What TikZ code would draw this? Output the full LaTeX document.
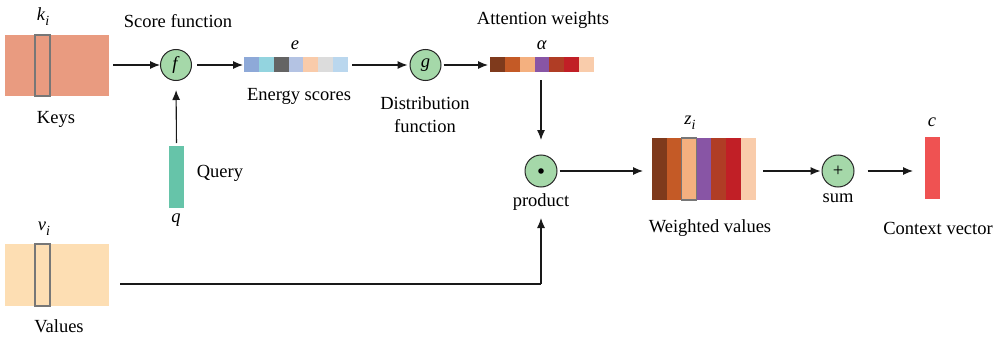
\documentclass[tikz,border=0pt]{standalone}
\usepackage{fontspec}
\setmainfont{LiberationSerif}[Extension=.ttf, UprightFont=*-Regular, ItalicFont=*-Italic, BoldFont=*-Bold, BoldItalicFont=*-BoldItalic]
\usetikzlibrary{arrows.meta}

\definecolor{keyc}{HTML}{E99B80}
\definecolor{valc}{HTML}{FDDEB3}
\definecolor{qryc}{HTML}{66C4A9}
\definecolor{ctxc}{HTML}{EF5252}
\definecolor{opc}{HTML}{A5D8A9}
\definecolor{boxc}{HTML}{777777}
% energy score cells
\definecolor{ea}{HTML}{8EA9D8}\definecolor{eb}{HTML}{93D4DF}\definecolor{ec}{HTML}{646464}
\definecolor{ed}{HTML}{B4C3E3}\definecolor{ee}{HTML}{F9CBAA}\definecolor{ef}{HTML}{DCDCDC}
\definecolor{eg}{HTML}{BAD7EE}
% attention weight cells
\definecolor{wa}{HTML}{7F3A1C}\definecolor{wb}{HTML}{C45A26}\definecolor{wc}{HTML}{F4B07F}
\definecolor{wd}{HTML}{8855A5}\definecolor{we}{HTML}{B03D25}\definecolor{wf}{HTML}{C11F26}
\definecolor{wg}{HTML}{F9CCAB}

% italic index lowered below the baseline
\newcommand{\idx}[1]{\raisebox{-5pt}{\fontsize{14}{14}\selectfont\textit{#1}}}

\tikzset{
  lbl/.style={font=\fontsize{18.5}{21}\selectfont, inner sep=0pt},
  blk/.style={draw=none, inner sep=0pt, outer sep=0pt},
  slice/.style={draw=boxc, line width=1.4pt, fill=none, inner sep=0pt, minimum width=15pt},
  op/.style={circle, draw=black!85, line width=1pt, fill=opc, minimum size=31pt, inner sep=0pt,
             font=\fontsize{18.5}{21}\selectfont},
  arr/.style={-{Latex[length=10pt,width=8pt]}, line width=1.1pt, black!90},
  ln/.style={line width=1.1pt, black!90},
}

\begin{document}
\begin{tikzpicture}[x=1pt,y=-1pt]
\useasboundingbox (0,0) rectangle (1003,337);

% keys and values matrices
\node[blk, fill=keyc, minimum width=104pt, minimum height=61pt] (keys) at (57,65.5) {};
\node[slice, minimum height=61pt] (ki) at (42.5,65.5) {};
\node[lbl] (kil) at (43,17) {\textit{k}\idx{i}};
\node[lbl] (keysl) at (56,119) {Keys};

\node[blk, fill=valc, minimum width=104pt, minimum height=62pt] (vals) at (57,275) {};
\node[slice, minimum height=62pt] (vi) at (42.5,275) {};
\node[lbl] (vil) at (44,229) {\textit{v}\idx{i}};
\node[lbl] (valsl) at (59,326) {Values};

% query
\node[blk, fill=qryc, minimum width=15pt, minimum height=62pt] (qry) at (176.5,177) {};
\node[lbl] (ql) at (176,220) {\textit{q}};
\node[lbl] (qryl) at (220,173) {Query};

% score function
\node[op] (f) at (176,65) {\textit{f}};
\node[lbl] (fl) at (178,21) {Score function};

% energy scores
\foreach \c [count=\i from 0] in {ea,eb,ec,ed,ee,ef,eg}
  \node[blk, fill=\c, minimum width=14.9pt, minimum height=15pt, anchor=west] (e\i) at (244+14.86*\i,64.5) {};
\node[lbl] (el) at (295,45) {\textit{e}};
\node[lbl] (esl) at (299,96) {Energy scores};

% distribution function
\node[op] (g) at (425.5,65) {\textit{g}};
\node[lbl, align=center] (gl) at (425,114.5) {Distribution\\[2pt]function};

% attention weights
\foreach \c [count=\i from 0] in {wa,wb,wc,wd,we,wf,wg}
  \node[blk, fill=\c, minimum width=14.9pt, minimum height=15pt, anchor=west] (a\i) at (490+14.86*\i,64.5) {};
\node[lbl] (al) at (542,45) {\textit{α}};
\node[lbl] (awl) at (543,20) {Attention weights};

% product
\node[op, minimum size=32pt] (prod) at (541,171) {};
\fill[black] (prod.center) circle (2.8pt);
\node[lbl] (prodl) at (541,202) {product};

% weighted values
\foreach \c [count=\i from 0] in {wa,wb,wc,wd,we,wf,wg}
  \node[blk, fill=\c, minimum width=14.9pt, minimum height=62pt, anchor=west] (w\i) at (652+14.86*\i,169) {};
\node[slice, minimum height=62pt] (zi) at (w2.center) {};
\node[lbl] (zil) at (690,123) {\textit{z}\idx{i}};
\node[lbl] (wvl) at (710,228) {Weighted values};

% sum
\node[op, minimum size=32pt] (sum) at (838,171) {+};
\node[lbl] (suml) at (838,198) {sum};

% context vector
\node[blk, fill=ctxc, minimum width=15pt, minimum height=62pt] (ctx) at (932.5,168) {};
\node[lbl] (cl) at (932,122) {\textit{c}};
\node[lbl] (ctxl) at (938,228) {Context vector};

% connectors
\draw[arr] (keys.east |- f) ++(4,0) -- (f.west);
\draw[arr, shorten <=5pt, shorten >=1pt] (f.east) -- (e0.west |- f);
\draw[arr, shorten <=4pt, shorten >=2pt] (e6.east |- g) -- (g.west);
\draw[arr, shorten <=2pt, shorten >=2pt] (g.east) -- (a0.west |- g);
\draw[arr, shorten <=3pt, shorten >=9pt] (qry.north) -- (f.south);
\draw[arr, shorten <=8pt] (a3.south -| prod) -- (prodl.center |- 0,140);
\draw[arr, shorten <=2pt, shorten >=9pt] (prod.east) -- (w0.west |- prod);
\draw[ln] (vals.east |- 0,284) ++(11,0) coordinate (vstart) -- (prod |- vstart) coordinate (vcorner);
\draw[arr] (vcorner) -- (prod |- 0,218);
\draw[arr, shorten <=7pt, shorten >=1pt] (w6.east |- sum) -- (sum.west);
\draw[arr, shorten <=13pt, shorten >=12pt] (sum.east) -- (ctx.west |- sum);
\end{tikzpicture}
\end{document}
